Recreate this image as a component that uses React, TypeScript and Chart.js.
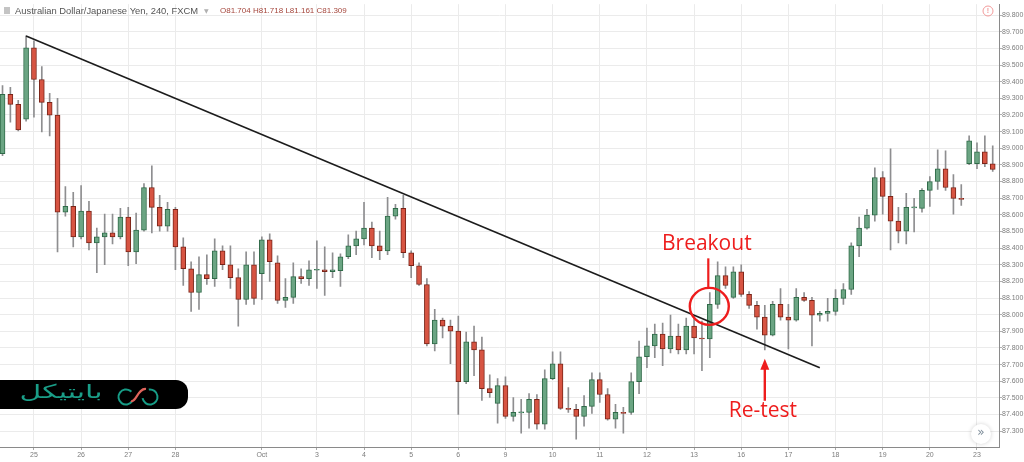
import React, { useEffect, useRef } from "react";
import { Chart, registerables } from "chart.js";

Chart.register(...registerables);

// AUD/JPY 4h candles (visible window)
const OPEN = [
  88.967, 89.324, 89.264, 89.175, 89.604, 89.413, 89.276, 89.199, 88.616, 88.651,
  88.467, 88.622, 88.431, 88.467, 88.491, 88.467, 88.586, 88.377, 88.508, 88.764,
  88.645, 88.532, 88.633, 88.407, 88.276, 88.133, 88.241, 88.217, 88.383, 88.300,
  88.223, 88.092, 88.300, 88.246, 88.449, 88.312, 88.086, 88.104, 88.229, 88.217,
  88.267, 88.270, 88.258, 88.264, 88.348, 88.413, 88.455, 88.520, 88.413, 88.383,
  88.592, 88.639, 88.372, 88.294, 88.181, 87.824, 87.967, 87.931, 87.901, 87.598,
  87.836, 87.788, 87.556, 87.467, 87.574, 87.389, 87.410, 87.413, 87.491, 87.342,
  87.616, 87.705, 87.437, 87.431, 87.389, 87.449, 87.610, 87.520, 87.372, 87.413,
  87.413, 87.598, 87.747, 87.812, 87.883, 87.794, 87.872, 87.788, 87.931, 87.860,
  87.854, 88.062, 88.235, 88.104, 88.258, 88.122, 88.056, 87.985, 87.877, 88.062,
  87.985, 87.967, 88.104, 88.086, 87.997, 88.008, 88.020, 88.098, 88.151, 88.413,
  88.520, 88.598, 88.824, 88.711, 88.562, 88.502, 88.642, 88.639, 88.747, 88.800,
  88.877, 88.764, 88.699, 88.907, 88.907, 88.979, 88.907,
];
const HIGH = [
  89.377, 89.366, 89.288, 89.675, 89.645, 89.491, 89.330, 89.300, 88.770, 88.735,
  88.776, 88.681, 88.520, 88.604, 88.604, 88.639, 88.645, 88.610, 88.788, 88.895,
  88.717, 88.675, 88.645, 88.461, 88.318, 88.348, 88.360, 88.455, 88.413, 88.413,
  88.276, 88.377, 88.377, 88.467, 88.485, 88.354, 88.217, 88.312, 88.276, 88.324,
  88.443, 88.407, 88.372, 88.366, 88.479, 88.502, 88.675, 88.556, 88.502, 88.705,
  88.663, 88.717, 88.383, 88.312, 88.217, 88.032, 87.979, 87.967, 87.991, 87.895,
  87.931, 87.866, 87.639, 87.616, 87.627, 87.502, 87.491, 87.526, 87.520, 87.669,
  87.776, 87.776, 87.562, 87.461, 87.514, 87.651, 87.651, 87.556, 87.461, 87.443,
  87.651, 87.842, 87.919, 87.943, 87.949, 87.997, 87.943, 87.979, 87.991, 87.961,
  88.133, 88.318, 88.288, 88.288, 88.300, 88.139, 88.080, 88.056, 88.080, 88.157,
  88.062, 88.157, 88.133, 88.104, 88.020, 88.098, 88.151, 88.187, 88.431, 88.586,
  88.633, 88.883, 88.860, 88.997, 88.645, 88.729, 88.699, 88.758, 88.830, 88.991,
  88.985, 88.842, 88.782, 89.074, 89.032, 89.074, 89.014,
];
const LOW = [
  88.955, 89.157, 89.104, 89.163, 89.187, 89.098, 89.074, 88.377, 88.592, 88.407,
  88.455, 88.389, 88.252, 88.300, 88.425, 88.455, 88.294, 88.306, 88.502, 88.491,
  88.502, 88.502, 88.270, 88.175, 88.020, 88.032, 88.181, 88.169, 88.270, 88.157,
  87.931, 88.062, 88.062, 88.092, 88.199, 88.068, 88.044, 88.068, 88.187, 88.175,
  88.157, 88.116, 88.223, 88.169, 88.336, 88.360, 88.419, 88.342, 88.330, 88.360,
  88.574, 88.342, 88.223, 88.175, 87.812, 87.782, 87.860, 87.705, 87.401, 87.586,
  87.633, 87.485, 87.502, 87.348, 87.377, 87.360, 87.288, 87.318, 87.312, 87.312,
  87.610, 87.431, 87.413, 87.252, 87.330, 87.407, 87.473, 87.366, 87.318, 87.288,
  87.401, 87.526, 87.681, 87.741, 87.693, 87.770, 87.764, 87.764, 87.764, 87.663,
  87.741, 88.038, 88.157, 88.098, 88.110, 88.038, 87.913, 87.788, 87.872, 87.967,
  87.794, 87.961, 88.080, 87.812, 87.961, 87.961, 87.997, 88.062, 88.122, 88.348,
  88.514, 88.562, 88.604, 88.389, 88.431, 88.425, 88.497, 88.616, 88.651, 88.752,
  88.747, 88.604, 88.657, 88.901, 88.877, 88.889, 88.860,
];
const CLOSE = [
  89.324, 89.264, 89.110, 89.604, 89.413, 89.276, 89.199, 88.616, 88.651, 88.467,
  88.622, 88.431, 88.467, 88.491, 88.467, 88.586, 88.377, 88.508, 88.764, 88.645,
  88.532, 88.633, 88.407, 88.276, 88.133, 88.241, 88.217, 88.383, 88.300, 88.223,
  88.092, 88.300, 88.098, 88.449, 88.318, 88.086, 88.104, 88.229, 88.217, 88.270,
  88.270, 88.258, 88.270, 88.348, 88.413, 88.455, 88.520, 88.413, 88.383, 88.592,
  88.639, 88.372, 88.294, 88.181, 87.824, 87.967, 87.931, 87.901, 87.598, 87.836,
  87.788, 87.556, 87.532, 87.574, 87.389, 87.413, 87.413, 87.491, 87.342, 87.616,
  87.705, 87.437, 87.431, 87.389, 87.449, 87.610, 87.520, 87.372, 87.413, 87.407,
  87.598, 87.747, 87.812, 87.883, 87.794, 87.872, 87.788, 87.931, 87.860, 87.854,
  88.062, 88.235, 88.175, 88.258, 88.122, 88.056, 87.985, 87.877, 88.062, 87.985,
  87.967, 88.104, 88.086, 87.997, 88.008, 88.020, 88.098, 88.151, 88.413, 88.520,
  88.598, 88.824, 88.711, 88.562, 88.502, 88.645, 88.645, 88.747, 88.800, 88.877,
  88.764, 88.699, 88.693, 89.044, 88.979, 88.907, 88.872,
];

const X_TICK_POS = [4, 10, 16, 22, 33, 40, 46, 52, 58, 64, 70, 76, 82, 88, 94, 100, 106, 112, 118, 124];
const X_TICK_LABELS = ["25", "26", "27", "28", "Oct", "3", "4", "5", "6", "9", "10", "11", "12", "13", "16", "17", "18", "19", "20", "23"];
const Y_TICKS = [
  87.3, 87.4, 87.5, 87.6, 87.7, 87.8, 87.9, 88.0, 88.1, 88.2, 88.3, 88.4, 88.5,
  88.6, 88.7, 88.8, 88.9, 89.0, 89.1, 89.2, 89.3, 89.4, 89.5, 89.6, 89.7, 89.8,
];

// trend line endpoints (candle index, price)
const TREND_X = [3, 104];
const TREND_Y = [89.675, 87.681];

// annotation anchors (candle index, price)
const BREAKOUT_AT = [90, 88.05];
const RETEST_AT = [97, 87.735];

const TITLE = "Australian Dollar/Japanese Yen, 240, FXCM";
const OHLC_TEXT = "O81.704 H81.718 L81.161 C81.309";
const LOGO_TEXT = "بایتیکل";

const UP_FILL = "#6ba583";
const UP_LINE = "#2f6a48";
const DOWN_FILL = "#d75442";
const DOWN_LINE = "#7a2418";
const WICK = "#8e8e90";
const GRID = "#ebebeb";
const AXIS = "#8a8a8a";
const TICK_TEXT = "#7c7c7c";
const RED = "#ee1d1d";

const overlayPlugin = {
  id: "overlay",
  afterDatasetsDraw(chart: any) {
    const { ctx } = chart;
    const xs = chart.scales.x;
    const ys = chart.scales.y;
    ctx.save();
    // Breakout marker
    const bx = xs.getPixelForValue(BREAKOUT_AT[0]);
    const by = ys.getPixelForValue(BREAKOUT_AT[1]);
    ctx.strokeStyle = RED;
    ctx.fillStyle = RED;
    ctx.lineWidth = 2.4;
    ctx.beginPath();
    ctx.ellipse(bx - 0.5, by, 19.5, 18.5, 0, 0, Math.PI * 2);
    ctx.stroke();
    ctx.lineWidth = 2.2;
    ctx.beginPath();
    ctx.moveTo(bx - 1.5, by - 18);
    ctx.lineTo(bx - 1.5, by - 48);
    ctx.stroke();
    ctx.font = '21px "Open Sans"';
    ctx.textAlign = "center";
    ctx.textBaseline = "alphabetic";
    ctx.fillText("Breakout", bx - 3, by - 56);

    // Re-test arrow
    const rx = xs.getPixelForValue(RETEST_AT[0]);
    const ry = ys.getPixelForValue(RETEST_AT[1]);
    ctx.lineWidth = 2.4;
    ctx.beginPath();
    ctx.moveTo(rx, ry + 8);
    ctx.lineTo(rx, ry + 42);
    ctx.stroke();
    ctx.beginPath();
    ctx.moveTo(rx, ry);
    ctx.lineTo(rx - 4.5, ry + 11);
    ctx.lineTo(rx + 4.5, ry + 11);
    ctx.closePath();
    ctx.fill();
    ctx.fillText("Re-test", rx - 2, ry + 58);
    ctx.restore();
  },
  afterDraw(chart: any) {
    const { ctx, chartArea } = chart;
    ctx.save();
    // header legend
    ctx.fillStyle = "#c4c4c4";
    ctx.fillRect(4, 7, 6, 7);
    ctx.font = '9.4px "Liberation Sans"';
    ctx.textAlign = "left";
    ctx.textBaseline = "middle";
    ctx.fillStyle = "#555555";
    ctx.fillText(TITLE, 15, 11);
    ctx.fillStyle = "#b0b0b0";
    ctx.font = '6px "DejaVu Sans"';
    ctx.fillText("▼", 204, 11);
    ctx.font = '8px "Liberation Sans"';
    ctx.fillStyle = "#a5473d";
    ctx.fillText(OHLC_TEXT, 220, 11);

    // warning icon top-right
    ctx.strokeStyle = "#f29a9a";
    ctx.lineWidth = 1;
    ctx.beginPath();
    ctx.arc(988, 11, 5, 0, Math.PI * 2);
    ctx.stroke();
    ctx.fillStyle = "#f29a9a";
    ctx.font = 'bold 7px "Liberation Sans"';
    ctx.textAlign = "center";
    ctx.fillText("!", 988, 11);

    // scroll button bottom-right
    ctx.save();
    ctx.shadowColor = "rgba(0,0,0,0.18)";
    ctx.shadowBlur = 4;
    ctx.fillStyle = "#ffffff";
    ctx.beginPath();
    ctx.arc(chartArea.right - 18, chartArea.bottom - 13, 10, 0, Math.PI * 2);
    ctx.fill();
    ctx.restore();
    ctx.fillStyle = "#7d8c99";
    ctx.font = '12px "DejaVu Sans"';
    ctx.textAlign = "center";
    ctx.fillText("»", chartArea.right - 18, chartArea.bottom - 14);

    // logo badge
    const top = chartArea.bottom - 67;
    const h = 29;
    const w = 188;
    const r = 12;
    ctx.fillStyle = "#000000";
    ctx.beginPath();
    ctx.moveTo(0, top);
    ctx.lineTo(w - r, top);
    ctx.arcTo(w, top, w, top + r, r);
    ctx.lineTo(w, top + h - r);
    ctx.arcTo(w, top + h, w - r, top + h, r);
    ctx.lineTo(0, top + h);
    ctx.closePath();
    ctx.fill();
    ctx.fillStyle = "#1a9e88";
    ctx.font = '19px "DejaVu Sans"';
    ctx.textAlign = "center";
    ctx.textBaseline = "middle";
    const tw = ctx.measureText(LOGO_TEXT).width;
    ctx.save();
    ctx.translate(61, top + 13);
    ctx.scale(83 / tw, 1);
    ctx.fillText(LOGO_TEXT, 0, 0);
    ctx.restore();
    // bike icon
    const cy = top + 17;
    ctx.strokeStyle = "#179c86";
    ctx.lineWidth = 2;
    ctx.beginPath();
    ctx.arc(126, cy, 7.5, 0.2 * Math.PI, 1.75 * Math.PI);
    ctx.stroke();
    ctx.beginPath();
    ctx.arc(150, cy, 7.5, 1.45 * Math.PI, 0.95 * Math.PI + 2 * Math.PI);
    ctx.stroke();
    ctx.strokeStyle = "#e0645c";
    ctx.lineWidth = 2.2;
    ctx.beginPath();
    ctx.moveTo(131, cy + 4);
    ctx.bezierCurveTo(136, cy + 6, 138, cy - 9, 146, cy - 8);
    ctx.stroke();
    ctx.restore();
  },
};

export default function App() {
  const canvasRef = useRef<HTMLCanvasElement | null>(null);

  useEffect(() => {
    document.body.style.margin = "0";
    const canvas = canvasRef.current;
    if (!canvas) return;

    const up = OPEN.map((o, i) => CLOSE[i] >= o);
    const bodies = OPEN.map((o, i) => ({ x: i, y: [o, CLOSE[i]] }));
    const wicks = LOW.map((l, i) => ({ x: i, y: [l, HIGH[i]] }));
    const trend = TREND_X.map((v, i) => ({ x: v, y: TREND_Y[i] }));

    const chart = new Chart(canvas, {
      type: "bar",
      data: {
        datasets: [
          {
            type: "line",
            data: trend,
            borderColor: "#1c1c1c",
            borderWidth: 1.6,
            pointRadius: 0,
            fill: false,
            order: 0,
          } as any,
          {
            data: bodies,
            backgroundColor: up.map((u) => (u ? UP_FILL : DOWN_FILL)),
            borderColor: up.map((u) => (u ? UP_LINE : DOWN_LINE)),
            borderWidth: 1,
            borderSkipped: false,
            barThickness: 5,
            minBarLength: 1,
            grouped: false,
            order: 1,
          } as any,
          {
            data: wicks,
            backgroundColor: WICK,
            borderWidth: 0,
            barThickness: 1,
            grouped: false,
            order: 2,
          } as any,
        ],
      },
      options: {
        animation: false,
        responsive: false,
        devicePixelRatio: 1,
        layout: { padding: 0 },
        plugins: {
          legend: { display: false },
          tooltip: { enabled: false },
          title: { display: false },
        },
        scales: {
          x: {
            type: "linear",
            min: -0.32,
            max: 126.8,
            offset: false,
            position: "bottom",
            grid: {
              color: GRID,
              offset: false,
              drawTicks: true,
              tickLength: 3,
              tickColor: "#a8a8a8",
            },
            border: { display: true, color: AXIS, width: 1 },
            ticks: {
              autoSkip: false,
              maxRotation: 0,
              padding: 1,
              color: TICK_TEXT,
              font: { family: "Liberation Sans", size: 7 },
              callback: (_v: any, idx: number) => X_TICK_LABELS[idx] ?? "",
            },
            afterBuildTicks: (scale: any) => {
              scale.ticks = X_TICK_POS.map((v) => ({ value: v }));
            },
            afterFit: (scale: any) => {
              scale.height = 15;
            },
          },
          y: {
            type: "linear",
            position: "right",
            min: 87.2048,
            max: 89.8655,
            beginAtZero: false,
            grid: {
              color: GRID,
              drawTicks: true,
              tickLength: 3,
              tickColor: "#b0b0b0",
            },
            border: { display: true, color: AXIS, width: 1 },
            ticks: {
              padding: 0,
              color: TICK_TEXT,
              font: { family: "Liberation Sans", size: 7 },
              callback: (v: any) => Number(v).toFixed(3),
            },
            afterBuildTicks: (scale: any) => {
              scale.ticks = Y_TICKS.map((v) => ({ value: v }));
            },
            afterFit: (scale: any) => {
              scale.width = 25;
            },
          },
        },
      } as any,
      plugins: [overlayPlugin],
    });

    return () => chart.destroy();
  }, []);

  return (
    <div style={{ width: 1024, height: 462, background: "#ffffff" }}>
      <canvas ref={canvasRef} width={1024} height={462} style={{ display: "block" }} />
    </div>
  );
}
